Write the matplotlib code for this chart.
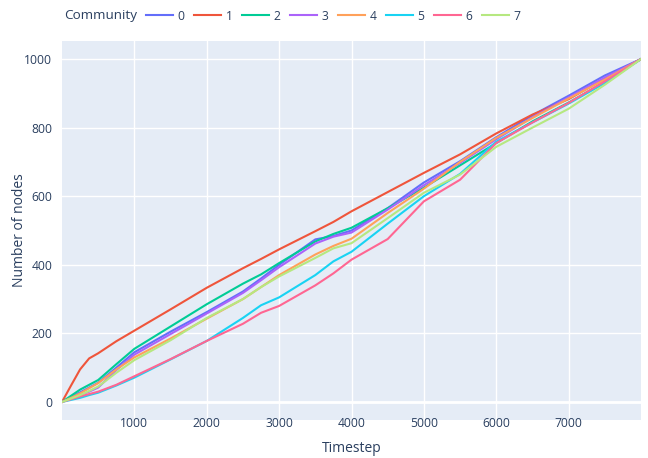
import matplotlib
matplotlib.use("Agg")
import matplotlib.pyplot as plt

timesteps = [0, 125, 250, 375, 500, 750, 1000, 1500, 2000, 2500, 2750, 3000,
             3500, 3750, 4000, 4500, 5000, 5500, 6000, 6500, 7000, 7500, 8000]

community_0 = [0, 14, 28, 42, 56, 100, 145, 205, 262, 322, 360, 400,
               474, 484, 500, 565, 640, 702, 772, 836, 893, 952, 1000]
community_1 = [0, 48, 95, 127, 142, 177, 208, 270, 333, 390, 417, 445,
               498, 525, 556, 612, 668, 722, 783, 838, 883, 943, 1000]
community_2 = [0, 18, 36, 50, 64, 110, 155, 220, 285, 345, 372, 405,
               468, 490, 508, 565, 625, 690, 755, 818, 873, 933, 1000]
community_3 = [0, 10, 20, 30, 42, 93, 138, 198, 258, 318, 355, 393,
               462, 482, 494, 561, 632, 697, 766, 830, 888, 946, 1000]
community_4 = [0, 12, 25, 40, 55, 95, 130, 185, 243, 300, 335, 370,
               430, 455, 476, 551, 622, 700, 770, 828, 885, 940, 1000]
community_5 = [0, 6, 12, 20, 27, 48, 71, 124, 178, 245, 282, 305,
               370, 410, 438, 520, 600, 665, 759, 815, 870, 930, 1000]
community_6 = [0, 8, 16, 23, 30, 50, 75, 125, 178, 228, 260, 280,
               340, 375, 415, 475, 585, 648, 755, 815, 872, 935, 1000]
community_7 = [0, 10, 20, 32, 45, 85, 122, 180, 245, 300, 335, 366,
               420, 448, 463, 536, 610, 663, 744, 800, 855, 925, 1000]

series = [community_0, community_1, community_2, community_3,
          community_4, community_5, community_6, community_7]
labels = ["0", "1", "2", "3", "4", "5", "6", "7"]
colors = ["#636EFA", "#EF553B", "#00CC96", "#AB63FA",
          "#FFA15A", "#19D3F3", "#FF6692", "#B6E880"]

text_color = "#2a3f5f"
plt.rcParams["font.family"] = ["Open Sans", "DejaVu Sans"]

W, H = 648, 458
fig = plt.figure(figsize=(W / 100, H / 100), dpi=100)
ax = fig.add_axes([62 / W, 1 - 420 / H, (641 - 62) / W, (420 - 41) / H])
ax.set_facecolor("#E5ECF6")

for vals, lab, col in zip(series, labels, colors):
    ax.plot(timesteps, vals, color=col, lw=1.5, label=lab, solid_joinstyle="round")

ax.set_xlim(0, 8000)
ax.set_ylim(-52.6, 1052.6)
ax.set_xticks(range(1000, 8000, 1000))
ax.set_yticks(range(0, 1001, 200))
ax.grid(True, color="white", lw=1)
ax.axhline(0, color="white", lw=2, zorder=1.5)
ax.set_axisbelow(True)
for s in ax.spines.values():
    s.set_visible(False)
ax.tick_params(length=0, labelsize=8.7, colors=text_color)
ax.tick_params(axis="y", pad=7)
ax.tick_params(axis="x", pad=-2.5)

ax.set_xlabel("Timestep", fontsize=10, color=text_color, va="center")
ax.set_ylabel("Number of nodes", fontsize=10, color=text_color, va="center")
ax.xaxis.set_label_coords(0.5, -29 / 379)
ax.yaxis.set_label_coords(-42 / 579, 0.5)

fig.text(64 / W, 1 - 16 / H, "Community", fontsize=9.7, color=text_color,
         va="center", ha="left")
fig.legend(loc="center left", bbox_to_anchor=(146 / W, 1 - 16 / H), ncol=8,
           frameon=False, fontsize=8.7, handlelength=2.25, handletextpad=0.35,
           columnspacing=0.8, borderpad=0, borderaxespad=0, labelcolor=text_color)

fig.savefig("out.png", dpi=100)
